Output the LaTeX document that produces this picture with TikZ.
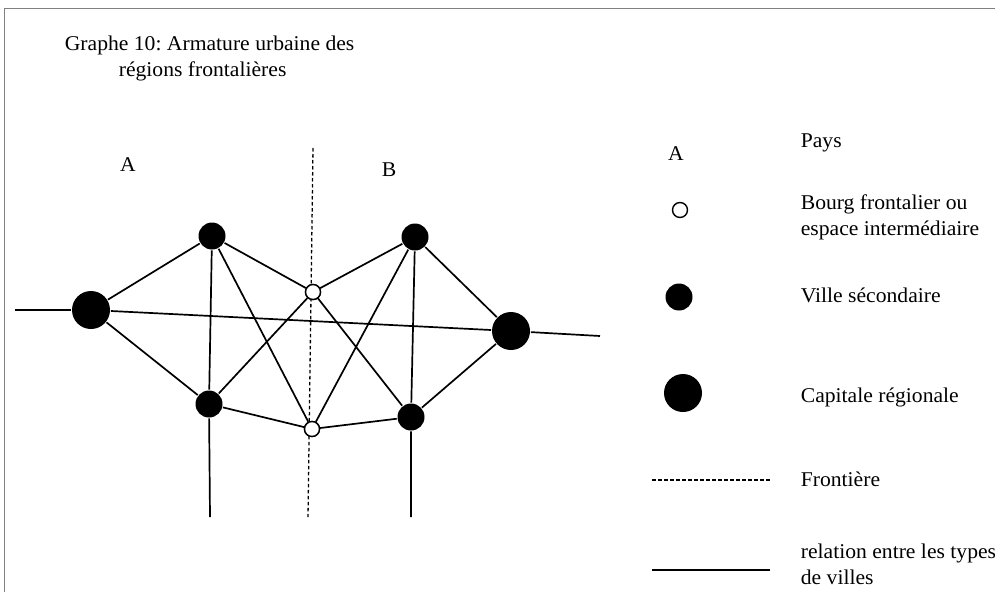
\documentclass[tikz,border=0pt]{standalone}
\usepackage{fontspec}
\setmainfont{Liberation Serif}[FakeStretch=1.03]
\usepackage{tikz}
\usetikzlibrary{calc}
\frenchspacing

\begin{document}
\begin{tikzpicture}[x=1pt,y=-1pt,line width=1.7pt,
	bourg/.style={circle,draw,fill=white,line width=1.4pt,inner sep=0pt,minimum size=15pt},
	ville/.style={circle,fill=black,inner sep=0pt,minimum size=27pt},
	capitale/.style={circle,fill=black,inner sep=0pt,minimum size=38pt},
	txt/.style={font=\fontsize{21}{26}\selectfont,anchor=west,inner sep=0pt,align=left},
	lettre/.style={font=\fontsize{21}{26}\selectfont,inner sep=0pt}]
			\useasboundingbox (0,0) rectangle (995,592);
			\draw[gray,line width=1pt] (995,8.5)--(4,8.5)--(4,592);
			
			\node[txt] (titre1) at (64,45) {Graphe 10: Armature urbaine des};
			\node[txt] (titre2) at (118,71) {régions frontalières};
			
			\node[lettre] (paysA) at (128,165) {A};
			\node[lettre] (paysB) at (389,170) {B};
			
			\coordinate (F1) at (313,148);
			\coordinate (F2) at (308,517);
			\draw[line width=1.3pt,dash pattern=on 3.5pt off 2.5pt] (F1)--(F2);
			
			\node[capitale] (CA) at (91,310) {};
			\node[capitale] (CB) at (511,331) {};
			\node[ville] (VA1) at (212,236) {};
			\node[ville] (VA2) at (209,404) {};
			\node[ville] (VB1) at (415,237) {};
			\node[ville] (VB2) at (411,417) {};
			
			\coordinate (W) at (15,310);
			\coordinate (E) at (600,336);
			\coordinate (SA) at (210,517);
			\coordinate (SB) at (411,517);
			
			\draw (W)--(CA);
			\draw (CB)--(E);
			\draw (CA)--(VA1);
			\draw (CA)--(VA2);
			\draw (CA)--(CB);
			\draw (VA1)--(VA2)--(SA);
			\draw (VB1)--(VB2)--(SB);
			\draw (VB1)--(CB);
			\draw (VB2)--(CB);
			
			\node[bourg] (B1) at (313,292) {};
			\node[bourg] (B2) at (312,429) {};
			
			\foreach \v in {VA1,VA2,VB1,VB2}{
				\draw (\v)--(B1);
				\draw (\v)--(B2);
			}
			\node[bourg] at (B1) {};
			\node[bourg] at (B2) {};
			
			% legende
			\node[lettre] (legA) at (676,154) {A};
			\node[txt] (legPays) at (800,143) {Pays};
			\node[bourg] (legB) at (680,210) {};
			\node[txt] (legBourg) at (800,217) {Bourg frontalier ou\\espace intermédiaire};
			\node[ville] (legV) at (679,297) {};
			\node[txt] (legVille) at (800,295) {Ville sécondaire};
			\node[capitale] (legC) at (683,393) {};
			\node[txt] (legCap) at (800,397) {Capitale régionale};
			\coordinate (D1) at (652,480);
			\coordinate (D2) at (770,480);
			\draw[line width=1.3pt,dash pattern=on 3.5pt off 2.5pt] (D1)--(D2);
			\node[txt] (legFront) at (800,479) {Frontière};
			\coordinate (L1) at (652,570);
			\coordinate (L2) at (770,570);
			\draw (L1)--(L2);
			\node[txt] (legRel) at (800,564) {relation entre les types\\de villes};
		\end{tikzpicture}
\end{document}
